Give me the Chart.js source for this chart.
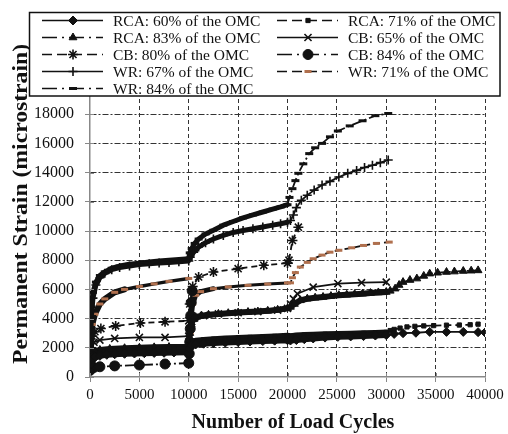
<!DOCTYPE html>
<html><head><meta charset="utf-8">
<script src="https://cdn.jsdelivr.net/npm/chart.js@4.4.1/dist/chart.umd.min.js"></script>
<style>html,body{margin:0;padding:0;background:#fff;overflow:hidden}canvas{display:block}</style>
</head><body>
<canvas id="c" width="508" height="434"></canvas>
<script>
// ---------- data ----------
const xTicks = [0, 5000, 10000, 15000, 20000, 25000, 30000, 35000, 40000];
const yTicks = [0, 2000, 4000, 6000, 8000, 10000, 12000, 14000, 16000, 18000, 20000];
const seriesNames = ["RCA: 60% of the OMC", "RCA: 71% of the OMC", "RCA: 83% of the OMC",
  "CB: 65% of the OMC", "CB: 80% of the OMC", "CB: 84% of the OMC",
  "WR: 67% of the OMC", "WR: 71% of the OMC", "WR: 84% of the OMC"];
const xTitle = "Number of Load Cycles";
const yTitle = "Permanent Strain (microstrain)";

const rca60 = [[0,400],[100,900],[250,1200],[500,1350],[1000,1450],[1700,1520],[2500,1560],[3500,1590],[4500,1610],[5500,1630],[6500,1650],[7500,1660],[8500,1680],[10000,1700],
  [10100,1950],[10300,2150],[10700,2230],[11500,2280],[12500,2320],[13700,2360],[15000,2400],[16200,2430],[17500,2460],[18700,2490],[20000,2520],
  [20300,2500],[20900,2530],[21700,2590],[22600,2640],[23800,2700],[25100,2750],[26400,2780],[27700,2800],[28900,2840],[30000,2870],
  [30800,2950],[31700,3000],[33000,3030],[34400,3090],[36100,3090],[37800,3090],[39300,3070],[40000,3050]];
const rca71 = [[0,500],[100,1100],[250,1400],[500,1560],[1000,1660],[1700,1730],[2500,1770],[3500,1800],[4500,1820],[5500,1840],[6500,1860],[7500,1870],[8500,1885],[10000,1900],
  [10100,2200],[10300,2400],[10700,2480],[11500,2540],[12500,2590],[13700,2630],[15000,2670],[16200,2710],[17500,2740],[18700,2780],[20000,2820],
  [20300,2800],[20900,2840],[21700,2870],[22600,2890],[23800,2920],[25100,2950],[26400,2970],[27700,2990],[28900,3020],[30000,3050],
  [30400,3180],[30800,3260],[31400,3350],[32100,3430],[32900,3470],[33800,3500],[34800,3520],[36100,3550],[37400,3560],[38500,3580],[39300,3620]];
const rca83 = [[0,700],[100,1300],[250,1600],[500,1750],[1000,1850],[2000,1920],[3500,1970],[5000,2000],[6500,2030],[8000,2050],[10000,2080],
  [10100,3000],[10250,3600],[10450,3950],[10700,4100],[11300,4200],[12000,4260],[13000,4320],[14000,4370],[15000,4410],[16000,4450],[17000,4480],[18000,4530],[19000,4600],[20000,4700],
  [20300,4800],[20700,5000],[21300,5250],[22000,5360],[22800,5430],[23600,5480],[24400,5540],[25200,5600],[26000,5630],[26800,5670],[27600,5710],[28400,5750],[29200,5790],[30000,5820],
  [30400,5900],[30900,6050],[31300,6300],[31700,6500],[32400,6640],[33100,6740],[33800,6920],[34400,7080],[35200,7140],[36100,7190],[36900,7220],[37800,7260],[38600,7280],[39300,7300]];
const cb65 = [[150,2100],[400,2380],[1000,2530],[2500,2640],[5000,2710],[7600,2710],[10000,2800],
  [10100,3300],[10300,3800],[10600,4050],[11500,4200],[13000,4320],[15000,4400],[17000,4480],[19000,4580],[20000,4700],
  [20300,5000],[20600,5350],[21000,5700],[22600,6150],[25100,6400],[27500,6460],[30000,6500]];
const cb80 = [[200,2800],[500,3100],[1100,3320],[2600,3500],[5100,3700],[7600,3780],[10000,3850],
  [10100,5000],[10400,6200],[11000,6850],[12500,7190],[15000,7420],[17600,7650],[20000,7800],
  [20150,8000],[20500,9350],[21100,10260]];
const cb84 = [[0,450],[400,650],[1000,700],[2500,760],[5000,820],[7600,890],[10000,950],
  [10050,1600],[10100,2400],[10150,3300],[10200,4200],[10250,5100],[10350,5900]];
const wr67 = [[30,1500],[80,3000],[150,4200],[300,5400],[600,6300],[1000,6800],[1500,7100],[2200,7350],[3000,7500],[4000,7600],[5000,7700],[6000,7760],[7000,7810],[8000,7850],[9000,7900],[10000,7950],
  [10150,8200],[10500,8550],[11000,8900],[11700,9200],[12500,9450],[13500,9700],[14500,9900],[15500,10030],[16500,10150],[17500,10270],[18500,10400],[19300,10500],[20000,10600],
  [20300,10720],[20600,11100],[20900,11600],[21400,12100],[22000,12450],[22700,12800],[23500,13150],[24300,13400],[25200,13700],[26100,13950],[27000,14150],[27800,14350],[28600,14500],[29400,14680],[30200,14860]];
const wr71 = [[50,1500],[230,3600],[500,4300],[1000,5000],[1500,5350],[2500,5800],[3500,6000],[5000,6200],[6500,6380],[8000,6550],[10000,6750],
  [10020,null],
  [10050,2200],[10150,3000],[10250,4200],[10400,5000],[10700,5600],[11200,5850],[12500,6050],[14000,6170],[16000,6280],[18000,6370],[20000,6440],
  [20300,6450],[20500,6800],[20800,7150],[21300,7530],[22000,7850],[22600,8100],[23500,8350],[24300,8550],[25200,8680],[26500,8850],[27700,9010],[29000,9150],[30300,9240]];
const wr84 = [[30,1800],[80,3400],[150,4800],[300,5800],[600,6500],[1000,6950],[1500,7200],[2200,7450],[3000,7600],[4000,7720],[5000,7800],[6000,7880],[7000,7940],[8000,8000],[9000,8050],[10000,8100],
  [10100,8500],[10300,8800],[10600,9150],[11000,9450],[11700,9800],[12500,10050],[13500,10400],[14500,10650],[15500,10900],[16500,11100],[17500,11300],[18500,11500],[19300,11650],[20000,11800],
  [20200,12300],[20500,12900],[20800,13450],[21100,13950],[21600,14600],[22200,15300],[22800,15700],[23500,16000],[24300,16450],[25100,16850],[26300,17200],[27600,17550],[28900,17900],[30200,18050]];

// ---------- styles ----------
const DASH = [6, 4];
const DASHDOT = [10, 3, 2, 3];
const BROWN = '#b0704e';
const serif = '"Liberation Serif", "Times New Roman", serif';
// band: [fromX, toX, width] ranges where dense markers merge into a thick band
const styles = [
  {dash: [], ps: 'rectRot', r: 4.5, bw: 1, fill: '#111', stroke: '#111', bands: [[0, 30000, 6]]},
  {dash: DASH, ps: 'rect', r: 3, bw: 1, fill: '#111', stroke: '#111', bands: [[0, 30000, 6]]},
  {dash: DASHDOT, ps: 'triangle', r: 4.5, bw: 1, fill: '#111', stroke: '#111', bands: [[0, 30000, 6]]},
  {dash: [], ps: 'crossRot', r: 5, bw: 1.6, fill: '#111', stroke: '#111', bands: [[10000, 20000, 5]]},
  {dash: DASH, ps: 'star', r: 5, bw: 1.6, fill: '#111', stroke: '#111', bands: []},
  {dash: DASHDOT, ps: 'circle', r: 5, bw: 1, fill: '#111', stroke: '#111', bands: []},
  {dash: [], ps: 'cross', r: 4.5, bw: 1.6, fill: '#111', stroke: '#111', bands: [[0, 20000, 5]]},
  {dash: DASH, ps: 'line', r: 3.5, bw: 3, fill: BROWN, stroke: BROWN, bands: [[0, 3000, 6], [3000, 10001, 3.5], [10001, 12000, 5], [12000, 20000, 3]]},
  {dash: DASHDOT, ps: 'line', r: 4, bw: 3, fill: '#111', stroke: '#111', bands: [[0, 20000, 5]]}
];
const seriesData = [rca60, rca71, rca83, cb65, cb80, cb84, wr67, wr71, wr84];

function bandWidth(st, x) {
  for (const b of st.bands) if (x >= b[0] && x < b[1]) return b[2];
  return null;
}

const datasets = seriesData.map((d, i) => ({
  label: seriesNames[i],
  data: d.map(p => ({x: p[0], y: p[1]})),
  borderColor: '#111',
  borderWidth: 1.8,
  borderDash: styles[i].dash,
  borderJoinStyle: 'round',
  pointStyle: styles[i].ps,
  pointRadius: styles[i].r,
  pointHoverRadius: styles[i].r,
  pointBorderWidth: styles[i].bw,
  pointBackgroundColor: styles[i].fill,
  pointBorderColor: styles[i].stroke,
  fill: false,
  tension: 0,
  spanGaps: false,
  segment: {
    borderWidth: c => { const w = bandWidth(styles[i], c.p0.parsed.x); return w === null ? undefined : w; },
    borderDash: c => bandWidth(styles[i], c.p0.parsed.x) === null ? undefined : [],
    borderCapStyle: c => bandWidth(styles[i], c.p0.parsed.x) === null ? undefined : 'round'
  }
}));

function drawMarker(ctx, st, x, y) {
  ctx.save();
  ctx.setLineDash([]);
  ctx.fillStyle = st.fill;
  ctx.strokeStyle = st.stroke;
  ctx.lineWidth = st.bw;
  if (Chart.helpers && Chart.helpers.drawPoint) {
    Chart.helpers.drawPoint(ctx, {pointStyle: st.ps, radius: st.r, borderWidth: st.bw, rotation: 0}, x, y);
  } else {
    ctx.beginPath(); ctx.arc(x, y, st.r, 0, Math.PI * 2); ctx.fill();
  }
  ctx.restore();
}

const decor = {
  id: 'decor',
  beforeDraw(chart) {
    const ctx = chart.ctx;
    ctx.save(); ctx.fillStyle = '#fff'; ctx.fillRect(0, 0, chart.width, chart.height); ctx.restore();
  },
  afterDraw(chart) {
    const ctx = chart.ctx;
    const xs = chart.scales.x, ys = chart.scales.y;
    const ca = chart.chartArea;
    // inner halves of the tick marks (ticks cross the axes)
    ctx.save();
    ctx.strokeStyle = '#888'; ctx.lineWidth = 1; ctx.setLineDash([]);
    xTicks.forEach(v => { const px = Math.round(xs.getPixelForValue(v)) + 0.5; ctx.beginPath(); ctx.moveTo(px, ca.bottom); ctx.lineTo(px, ca.bottom - 4); ctx.stroke(); });
    yTicks.forEach(v => { const py = Math.round(ys.getPixelForValue(v)) + 0.5; ctx.beginPath(); ctx.moveTo(ca.left, py); ctx.lineTo(ca.left + 4, py); ctx.stroke(); });
    ctx.restore();

    // axis titles
    ctx.save();
    ctx.fillStyle = '#111';
    ctx.font = 'bold 20px ' + serif;
    ctx.textAlign = 'center'; ctx.textBaseline = 'alphabetic';
    ctx.fillText(xTitle, 293, 428);
    ctx.translate(27, 204);
    ctx.rotate(-Math.PI / 2);
    const w = ctx.measureText(yTitle).width;
    ctx.scale(320 / w, 1);
    ctx.fillText(yTitle, 0, 0);
    ctx.restore();

    // legend box
    ctx.save();
    ctx.fillStyle = '#fff';
    ctx.fillRect(29, 12, 471, 84);
    ctx.strokeStyle = '#111'; ctx.lineWidth = 1.5; ctx.setLineDash([]);
    ctx.strokeRect(29.5, 12.5, 470.5, 83.5);
    const colX = [42, 277];
    const rowY = [20.5, 37.5, 54.5, 71.5, 88.5];
    ctx.font = '15.5px ' + serif;
    ctx.textAlign = 'left'; ctx.textBaseline = 'middle';
    seriesNames.forEach((name, i) => {
      const x0 = colX[i % 2], y = rowY[Math.floor(i / 2)];
      const st = styles[i];
      ctx.save();
      ctx.strokeStyle = '#111'; ctx.lineWidth = 1.6;
      ctx.setLineDash(st.dash.length ? (st.dash === DASH ? [10, 5] : [15, 5, 2, 5]) : []);
      ctx.beginPath(); ctx.moveTo(x0, y); ctx.lineTo(x0 + 61, y); ctx.stroke();
      ctx.restore();
      drawMarker(ctx, st, x0 + 31, y);
      ctx.fillStyle = '#111';
      ctx.fillText(name, x0 + 71, y + 1);
    });
    ctx.restore();
  }
};

new Chart(document.getElementById('c'), {
  type: 'line',
  data: {datasets},
  plugins: [decor],
  options: {
    responsive: false,
    animation: false,
    events: [],
    layout: {padding: {left: 0, right: 23, top: 85, bottom: 0}},
    plugins: {legend: {display: false}, tooltip: {enabled: false}, title: {display: false}},
    scales: {
      x: {
        type: 'linear', min: 0, max: 40000,
        afterBuildTicks: s => { s.ticks = xTicks.map(v => ({value: v})); },
        afterFit: s => { s.height = 57; },
        ticks: {color: '#111', font: {family: serif, size: 15}, padding: 4, maxRotation: 0, autoSkip: false,
          callback: v => String(v)},
        grid: {color: c => c.index === 0 ? 'rgba(0,0,0,0)' : '#333', lineWidth: 1, tickLength: 5, tickColor: '#888', tickBorderDash: [], tickWidth: 1},
        border: {display: true, color: '#888', width: 1.5, dash: [4, 3]}
      },
      y: {
        type: 'linear', min: 0, max: 20000,
        afterBuildTicks: s => { s.ticks = yTicks.map(v => ({value: v})); },
        afterFit: s => { s.width = 90; },
        ticks: {color: '#111', font: {family: serif, size: 16}, padding: 11, autoSkip: false,
          callback: v => v === 20000 ? '' : String(v)},
        grid: {color: c => (c.index === 0 || c.index === 10) ? 'rgba(0,0,0,0)' : '#333', lineWidth: 1, tickLength: 5, tickColor: '#888', tickBorderDash: [], tickWidth: 1},
        border: {display: true, color: '#888', width: 1.5, dash: [6, 2, 2, 2]}
      }
    }
  }
});
</script>
</body></html>
